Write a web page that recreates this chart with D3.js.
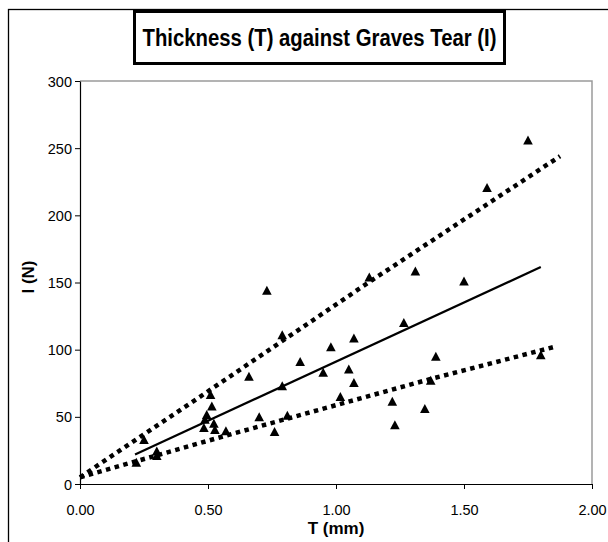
<!DOCTYPE html>
<html><head><meta charset="utf-8">
<script src="https://cdn.jsdelivr.net/npm/d3@7"></script>
<style>html,body{margin:0;padding:0;background:#fff;}svg{display:block;font-family:"Liberation Sans",Arial,sans-serif;}</style>
</head><body>
<script>
const title = "Thickness (T) against Graves Tear (I)";
const xTitle = "T (mm)";
const yTitle = "I (N)";
const xTicks = [0, 0.5, 1.0, 1.5, 2.0];
const yTicks = [0, 50, 100, 150, 200, 250, 300];
const thickness = [0.22,0.25,0.30,0.30,0.51,0.515,0.495,0.488,0.484,0.523,0.527,0.57,0.66,0.70,0.76,0.79,0.79,0.81,0.86,0.73,0.95,0.98,1.017,1.05,1.07,1.07,1.13,1.22,1.23,1.265,1.31,1.347,1.37,1.39,1.50,1.59,1.75,1.80];
const tear = [16,33,24.5,21,66.5,58,51.5,48,42,45,40.5,39.5,80,50,39,73,111,51,91,144,83,102,65,85.5,108.5,75.5,154,61.5,44,120,158.5,56,77,95,151,220.5,256,96];
const fitT = [0.215, 1.80];
const fitI = [22, 161.5];
const upperT = [0, 0.508, 1.127, 1.875];
const upperI = [5, 70, 150, 244];
const lowerT = [0, 0.57, 1.366, 1.862];
const lowerI = [5, 36, 78, 102.5];

const W = 608, H = 542;
const svg = d3.select("body").append("svg").attr("width", W).attr("height", H);
svg.append("rect").attr("x",0).attr("y",0).attr("width",W).attr("height",H).attr("fill","#fff");
// outer chart border (extends beyond picture on right/bottom)
svg.append("rect").attr("x",8.5).attr("y",9.5).attr("width",W+20).attr("height",H+20)
  .attr("fill","none").attr("stroke","#000").attr("stroke-width",1.3);

const x = d3.scaleLinear().domain([0,2]).range([80,592]);
const y = d3.scaleLinear().domain([0,300]).range([484,81]);

// plot area border
svg.append("path").attr("d",`M${x(0)},${y(300)}H${x(2)}V${y(0)}`)
  .attr("fill","none").attr("stroke","#9a9a9a").attr("stroke-width",1.5);

const xAxis = svg.append("g").attr("transform",`translate(0,${y(0)})`)
  .call(d3.axisBottom(x).tickValues(xTicks).tickFormat(d3.format(".2f")).tickSize(5).tickSizeOuter(0));
const yAxis = svg.append("g").attr("transform",`translate(${x(0)},0)`)
  .call(d3.axisLeft(y).tickValues(yTicks).tickFormat(d3.format("d")).tickSize(5).tickSizeOuter(0));
[xAxis,yAxis].forEach(g=>{
  g.select(".domain").attr("stroke","#000").attr("stroke-width",1.2);
  g.selectAll(".tick line").attr("stroke","#000");
  g.selectAll("text").attr("font-family","Liberation Sans, Arial, sans-serif").attr("font-size",14.5).attr("fill","#000");
});
xAxis.selectAll("text").attr("dy","0").attr("y",31);
yAxis.selectAll("text").attr("x",-8).attr("dy","0.35em");

// lines
const line = d3.line().x(d=>x(d[0])).y(d=>y(d[1]));
svg.append("path").attr("d", line(upperT.map((t,i)=>[t,upperI[i]])))
  .attr("fill","none").attr("stroke","#000").attr("stroke-width",4.5).attr("stroke-dasharray","4.5,4.5");
svg.append("path").attr("d", line(lowerT.map((t,i)=>[t,lowerI[i]])))
  .attr("fill","none").attr("stroke","#000").attr("stroke-width",4.5).attr("stroke-dasharray","4.5,4.5");
svg.append("path").attr("d", line(fitT.map((t,i)=>[t,fitI[i]])))
  .attr("fill","none").attr("stroke","#000").attr("stroke-width",2.2);

// markers
svg.append("g").selectAll("path").data(thickness.map((t,i)=>[t,tear[i]])).join("path")
  .attr("d","M0,-4.7L4.8,4.3L-4.8,4.3Z")
  .attr("transform",d=>`translate(${x(d[0])},${y(d[1])})`)
  .attr("fill","#000");

// axis titles
svg.append("text").attr("x",336).attr("y",534).attr("text-anchor","middle")
  .attr("font-weight","bold").attr("font-size",17).text(xTitle);
svg.append("text").attr("transform","translate(34,277) rotate(-90)").attr("text-anchor","middle")
  .attr("font-weight","bold").attr("font-size",17).text(yTitle);

// title box
svg.append("rect").attr("x",134.5).attr("y",11.5).attr("width",370).attr("height",52)
  .attr("fill","#fff").attr("stroke","#000").attr("stroke-width",3);
svg.append("text").attr("x",319.5).attr("y",45.5).attr("text-anchor","middle")
  .attr("font-weight","bold").attr("font-size",23)
  .attr("textLength",354).attr("lengthAdjust","spacingAndGlyphs").text(title);
</script>
</body></html>
